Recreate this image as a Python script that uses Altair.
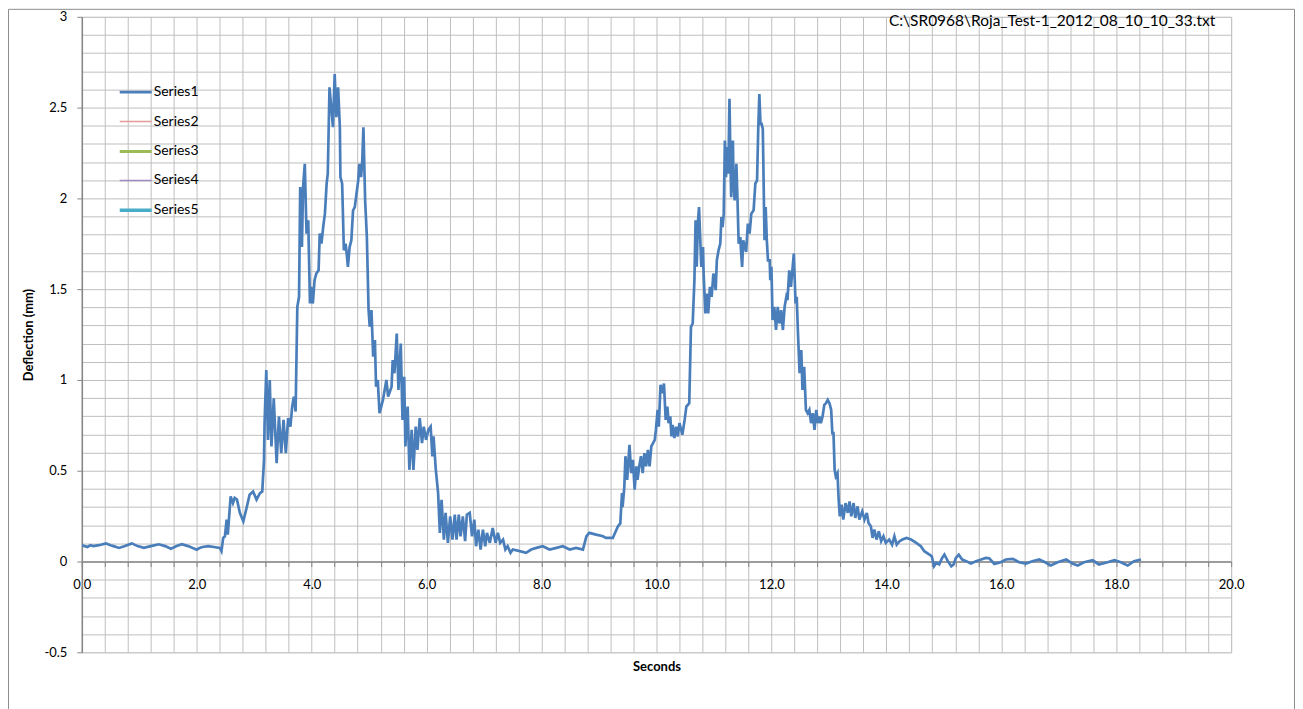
import altair as alt
import pandas as pd

FILE_TITLE = "C:\\SR0968\\Roja_Test-1_2012_08_10_10_33.txt"
SERIES = ["Series1", "Series2", "Series3", "Series4", "Series5"]
COLORS = ["#4A7EBB", "#E39B9A", "#9BBB59", "#9D8CC0", "#4BACC6"]
WIDTHS = [2.7, 1.5, 3.2, 1.5, 3.5]

X_TICKS = [round(i * 0.4, 1) for i in range(51)]
Y_TICKS = [round(-0.5 + i * 0.1, 1) for i in range(36)]

T = [
    0.00, 0.05, 0.10, 0.15, 0.20, 0.30, 0.42, 0.50, 0.55, 0.65, 0.75, 0.87, 0.97, 1.08, 1.20, 1.34,
    1.45, 1.55, 1.65, 1.74, 1.85, 2.00, 2.05, 2.10, 2.20, 2.30, 2.40, 2.43,
    2.46, 2.49, 2.52, 2.54, 2.59, 2.63, 2.66, 2.70, 2.75, 2.81, 2.86, 2.92, 2.98, 3.04, 3.10, 3.14,
    3.17, 3.18, 3.21, 3.24, 3.27, 3.30, 3.34, 3.39, 3.43, 3.47, 3.51, 3.55, 3.59, 3.63, 3.66, 3.69, 3.72,
    3.75, 3.78, 3.80, 3.83, 3.85, 3.88, 3.91, 3.94, 3.97, 3.99, 4.02, 4.05, 4.08, 4.12, 4.14, 4.17,
    4.20, 4.23, 4.26, 4.28, 4.31, 4.34, 4.37, 4.40, 4.43, 4.46, 4.49, 4.50, 4.53, 4.56, 4.59, 4.61,
    4.63, 4.66, 4.69, 4.72, 4.75, 4.78, 4.81, 4.83, 4.86, 4.88, 4.90, 4.93, 4.96, 4.99, 5.01, 5.04,
    5.07, 5.10, 5.12, 5.15,
    5.18, 5.24, 5.30, 5.33, 5.39, 5.41, 5.44, 5.48, 5.51, 5.55, 5.58, 5.61, 5.63, 5.67, 5.70, 5.74,
    5.77, 5.81, 5.84, 5.88, 5.92, 5.95, 5.99, 6.03, 6.07, 6.10, 6.12, 6.16, 6.20, 6.23, 6.26, 6.30,
    6.33, 6.37, 6.41, 6.45, 6.49, 6.52, 6.56, 6.59, 6.63, 6.67, 6.70, 6.75, 6.79, 6.83, 6.86, 6.90,
    6.94, 6.98, 7.02, 7.05, 7.10, 7.15, 7.20, 7.24, 7.28, 7.33, 7.37, 7.41, 7.46, 7.50, 7.62, 7.73,
    7.82, 7.91, 8.02, 8.14, 8.26, 8.37, 8.49, 8.60, 8.72, 8.78, 8.83, 8.95, 9.07,
    9.12, 9.24, 9.33, 9.37, 9.40, 9.41, 9.44, 9.46, 9.49, 9.53, 9.56, 9.59, 9.62, 9.65, 9.67, 9.70,
    9.73, 9.76, 9.79, 9.82, 9.85, 9.88, 9.91, 9.94, 9.97, 9.99, 10.02, 10.04, 10.07, 10.10, 10.13,
    10.16, 10.19, 10.21, 10.24, 10.26, 10.28, 10.31, 10.34, 10.37,
    10.40, 10.45, 10.49, 10.52, 10.57, 10.60, 10.63, 10.66, 10.68, 10.70, 10.72, 10.74, 10.76, 10.78,
    10.81, 10.82, 10.85, 10.88, 10.90, 10.93, 10.96, 10.99, 11.03, 11.05, 11.08, 11.11, 11.13, 11.15,
    11.17, 11.19, 11.21, 11.23, 11.25, 11.27, 11.29, 11.30, 11.33, 11.34, 11.36, 11.39, 11.41, 11.43,
    11.46, 11.47, 11.49, 11.51, 11.54, 11.56, 11.59, 11.62, 11.65, 11.69, 11.72, 11.75, 11.77, 11.79,
    11.81, 11.83, 11.85, 11.88, 11.90, 11.92, 11.94, 11.97, 11.98, 12.00, 12.02, 12.05, 12.08, 12.11,
    12.14, 12.17, 12.20, 12.23, 12.26, 12.28, 12.31, 12.34, 12.37, 12.39, 12.42, 12.44, 12.46, 12.49,
    12.52, 12.54, 12.57, 12.60, 12.63, 12.66, 12.69, 12.72, 12.75, 12.78, 12.81, 12.83, 12.86, 12.89,
    12.92, 12.95, 12.98, 13.01, 13.04, 13.06, 13.08, 13.10, 13.12, 13.15, 13.17,
    13.19, 13.22, 13.25, 13.29, 13.33, 13.36, 13.39, 13.43, 13.46, 13.50, 13.53, 13.58, 13.62, 13.66,
    13.69, 13.73, 13.76, 13.79, 13.83, 13.87, 13.91, 13.95, 13.99, 14.05, 14.10, 14.14, 14.18, 14.23,
    14.28, 14.35, 14.43, 14.52, 14.60, 14.66, 14.75, 14.79, 14.83, 14.87, 14.92, 14.97, 15.01, 15.07,
    15.13, 15.17, 15.21, 15.26, 15.32, 15.39, 15.47, 15.56, 15.65, 15.73, 15.79, 15.88, 15.99, 16.08,
    16.20, 16.31, 16.43, 16.54, 16.66, 16.78, 16.86, 16.98, 17.13, 17.24, 17.33, 17.44, 17.59, 17.70,
    17.82, 17.97, 18.08, 18.20, 18.31, 18.43,
]

D = [
    0.090, 0.085, 0.080, 0.090, 0.085, 0.090, 0.100, 0.090, 0.085, 0.075, 0.085, 0.100, 0.085, 0.075, 0.085, 0.095,
    0.085, 0.070, 0.085, 0.095, 0.085, 0.065, 0.075, 0.080, 0.085, 0.080, 0.075, 0.057,
    0.130, 0.139, 0.231, 0.148, 0.359, 0.322, 0.350, 0.341, 0.268, 0.222, 0.286, 0.368, 0.386, 0.341, 0.377, 0.386,
    0.560, 0.762, 1.055, 0.670, 1.000, 0.634, 0.899, 0.542, 0.799, 0.597, 0.780, 0.597, 0.790, 0.743, 0.853, 0.908, 0.826,
    1.403, 1.458, 2.062, 1.732, 2.062, 2.190, 1.806, 1.879, 1.421, 1.513, 1.421, 1.549, 1.586, 1.604, 1.806, 1.751,
    1.842, 1.916, 2.081, 2.136, 2.612, 2.502, 2.392, 2.685, 2.447, 2.612, 2.392, 2.117, 2.081, 1.714, 1.751, 1.696,
    1.623, 1.732, 1.769, 1.934, 1.952, 2.026, 2.099, 2.190, 2.117, 2.209, 2.392, 1.989, 1.787, 1.385, 1.293, 1.385,
    1.128, 1.220, 0.963, 1.000,
    0.817, 0.890, 1.000, 0.908, 0.963, 1.110, 1.037, 1.256, 0.945, 1.201, 0.780, 1.018, 0.634, 0.853, 0.505, 0.725,
    0.505, 0.743, 0.615, 0.790, 0.652, 0.743, 0.670, 0.725, 0.743, 0.579, 0.689, 0.505, 0.377, 0.158, 0.340, 0.121,
    0.268, 0.103, 0.249, 0.121, 0.258, 0.121, 0.258, 0.139, 0.249, 0.112, 0.258, 0.268, 0.139, 0.231, 0.084, 0.176,
    0.066, 0.176, 0.084, 0.158, 0.103, 0.185, 0.103, 0.158, 0.103, 0.121, 0.066, 0.084, 0.048, 0.066, 0.057, 0.048,
    0.066, 0.075, 0.084, 0.066, 0.075, 0.084, 0.066, 0.075, 0.066, 0.139, 0.158, 0.148, 0.139,
    0.130, 0.130, 0.194, 0.210, 0.377, 0.300, 0.410, 0.580, 0.450, 0.643, 0.487, 0.560, 0.396, 0.524, 0.450, 0.524,
    0.580, 0.487, 0.597, 0.524, 0.615, 0.524, 0.634, 0.652, 0.670, 0.725, 0.835, 0.743, 0.973, 0.927, 0.980,
    0.780, 0.853, 0.762, 0.799, 0.689, 0.753, 0.680, 0.743, 0.689,
    0.762, 0.698, 0.780, 0.853, 0.872, 1.293, 1.311, 1.549, 1.879, 1.623, 1.861, 1.952, 1.787, 1.623,
    1.732, 1.586, 1.366, 1.476, 1.366, 1.513, 1.458, 1.586, 1.495, 1.659, 1.714, 1.751, 1.897, 1.842,
    1.916, 2.319, 2.117, 2.282, 2.136, 2.548, 2.154, 2.007, 2.319, 2.099, 1.989, 2.190, 1.989, 1.751,
    1.787, 1.714, 1.623, 1.769, 1.732, 1.705, 1.861, 1.806, 1.916, 1.934, 2.081, 2.099, 2.374, 2.575,
    2.410, 2.410, 2.383, 1.769, 1.952, 1.769, 1.659, 1.659, 1.549, 1.623, 1.330, 1.403, 1.275, 1.403,
    1.311, 1.385, 1.275, 1.403, 1.458, 1.440, 1.604, 1.513, 1.623, 1.696, 1.421, 1.458, 1.275, 1.037,
    1.165, 0.945, 1.073, 0.835, 0.817, 0.835, 0.762, 0.817, 0.725, 0.835, 0.762, 0.799, 0.762, 0.799,
    0.863, 0.872, 0.890, 0.872, 0.835, 0.707, 0.707, 0.505, 0.469, 0.487, 0.341,
    0.249, 0.313, 0.231, 0.322, 0.268, 0.331, 0.249, 0.322, 0.240, 0.304, 0.231, 0.276, 0.231, 0.268,
    0.212, 0.194, 0.130, 0.176, 0.121, 0.167, 0.112, 0.139, 0.103, 0.121, 0.093, 0.139, 0.093, 0.112,
    0.121, 0.130, 0.121, 0.103, 0.084, 0.057, 0.038, 0.029, -0.026, -0.007, -0.016, 0.020, 0.038, 0.002,
    -0.026, -0.016, 0.020, 0.038, 0.011, 0.002, -0.011, 0.002, 0.011, 0.020, 0.018, -0.013, -0.004, 0.011,
    0.015, -0.004, -0.011, 0.002, 0.011, -0.007, -0.022, -0.004, 0.011, -0.011, -0.022, -0.004, 0.007, -0.016,
    -0.007, 0.007, -0.004, -0.022, 0.002, 0.011,
]

df = pd.DataFrame({"Seconds": T, "Deflection": D, "series": "Series1"})

FONT = "Lato"
GRID = "#BFBFBF"
AXIS = "#868686"

x_label_expr = "abs(datum.value/2 - round(datum.value/2)) < 0.001 ? format(datum.value, '.1f') : ''"
y_label_expr = "abs(datum.value*2 - round(datum.value*2)) < 0.001 ? toString(round(datum.value*2)/2) : ''"
y_major = "abs(datum.value*2 - round(datum.value*2)) < 0.001"

legend = alt.Legend(
    title=None, orient="none", legendX=36, legendY=58,
    symbolType="stroke", symbolSize=1024, labelFont=FONT, labelFontSize=14,
    labelColor="#000000", labelOffset=0, rowPadding=5,
)

line = alt.Chart(df).mark_line(clip=True).encode(
    x=alt.X(
        "Seconds:Q",
        scale=alt.Scale(domain=[0, 20], nice=False, zero=False),
        axis=alt.Axis(
            values=X_TICKS, labelExpr=x_label_expr, grid=True, gridColor=GRID, gridWidth=1,
            domainColor=AXIS, domainWidth=1.5, tickColor=AXIS, tickSize=5, offset=-91,
            labelFont=FONT, labelFontSize=13, labelColor="#000000", labelPadding=12,
            labelOverlap=False, labelFlush=False, labelBound=False,
            title="Seconds", titleFont=FONT, titleFontSize=13, titleFontWeight="bold",
            titleColor="#000000", titleY=99, titleBaseline="top",
        ),
    ),
    y=alt.Y(
        "Deflection:Q",
        scale=alt.Scale(domain=[-0.5, 3], nice=False, zero=False),
        axis=alt.Axis(
            values=Y_TICKS, labelExpr=y_label_expr, grid=True, gridColor=GRID, gridWidth=1,
            domainColor=AXIS, domainWidth=1.5, tickColor=AXIS, tickSize=5,
            tickOpacity={"condition": {"test": y_major, "value": 1}, "value": 0},
            labelFont=FONT, labelFontSize=13, labelColor="#000000", labelPadding=10,
            labelOverlap=False, labelFlush=False, labelBound=False,
            title="Deflection (mm)", titleFont=FONT, titleFontSize=13, titleFontWeight="bold",
            titleColor="#000000", titlePadding=8,
        ),
    ),
    color=alt.Color("series:N", scale=alt.Scale(domain=SERIES, range=COLORS), legend=legend),
    strokeWidth=alt.StrokeWidth(
        "series:N", scale=alt.Scale(type="ordinal", domain=SERIES, range=WIDTHS), legend=legend
    ),
)

frame = alt.Chart(pd.DataFrame({"f": [0]})).mark_rect(
    fill="white", fillOpacity=0, stroke="#8C8C8C", strokeWidth=1, clip=False
).encode(
    x=alt.value(-73.5), x2=alt.value(1215.5), y=alt.value(-7.5), y2=alt.value(700)
)

file_label = alt.Chart(pd.DataFrame({"label": [FILE_TITLE]})).mark_text(
    align="right", baseline="middle", font=FONT, fontSize=15.5, color="#000000", clip=False
).encode(
    x=alt.value(1136), y=alt.value(4), text="label:N"
)

chart = alt.layer(frame, line, file_label).properties(
    width=1152, height=637,
    autosize=alt.AutoSizeParams(type="none"),
    padding={"left": 74, "top": 8, "right": 64, "bottom": 60},
).configure_view(stroke="transparent").configure(background="white")

chart.save("out.html", embed_options={"renderer": "svg", "actions": False})
